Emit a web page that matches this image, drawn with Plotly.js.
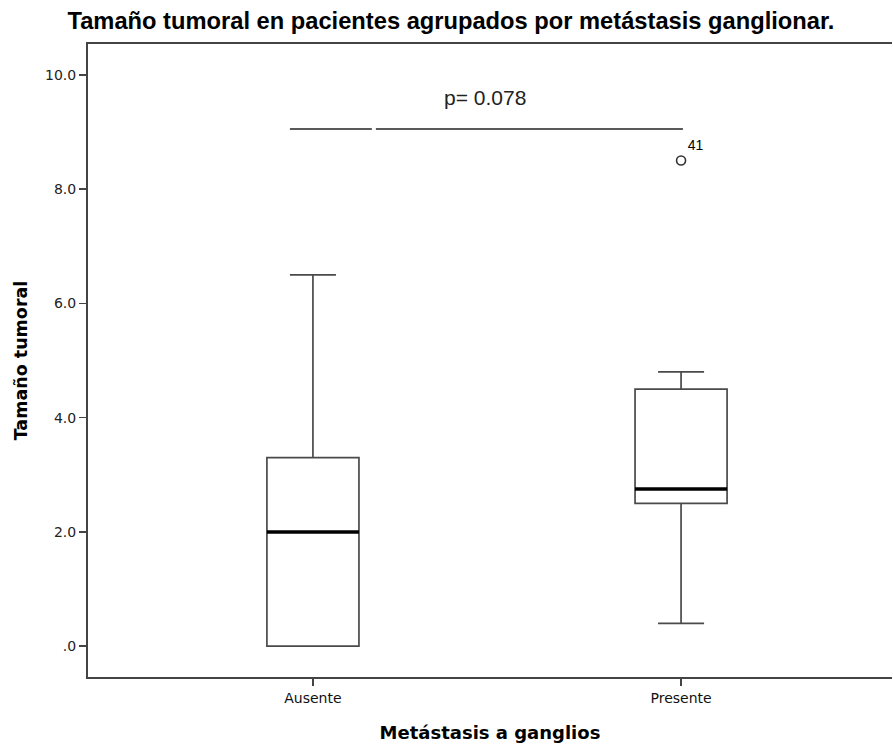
<!DOCTYPE html>
<html>
<head>
<meta charset="utf-8">
<script src="https://cdn.plot.ly/plotly-3.0.1.min.js"></script>
<style>html,body{margin:0;padding:0;background:#fff;}#chart{width:893px;height:747px;}</style>
</head>
<body>
<div id="chart"></div>
<script>
// ---- Data ----
const categories = ["Ausente", "Presente"];
const lowerWhisker = [0.0, 0.4];
const q1Values = [0.0, 2.5];
const medianValues = [2.0, 2.75];
const q3Values = [3.3, 4.5];
const upperWhisker = [6.5, 4.8];
const outlierGroup = ["Presente"];
const outlierValues = [8.5];
const outlierCase = ["41"];
const yTickVals = [0, 2, 4, 6, 8, 10];
const yTickText = [".0", "2.0", "4.0", "6.0", "8.0", "10.0"];
const pValueText = "p= 0.078";
const pLineY = 9.05;

// ---- Build ----
const xIdx = categories.map((c, i) => i);
const boxW = 0.25;

const boxTrace = {
  type: "box",
  x: xIdx,
  q1: q1Values,
  median: medianValues,
  q3: q3Values,
  lowerfence: lowerWhisker,
  upperfence: upperWhisker,
  boxpoints: false,
  width: boxW,
  whiskerwidth: 0.5,
  fillcolor: "rgba(255,255,255,0)",
  line: { color: "#4a4a4a", width: 1.7 },
  hoverinfo: "skip",
  showlegend: false
};

const outlierTrace = {
  type: "scatter",
  mode: "markers+text",
  x: outlierGroup.map(g => categories.indexOf(g)),
  y: outlierValues,
  text: outlierCase,
  textposition: "top right",
  textfont: { family: "Liberation Sans, Arial, sans-serif", size: 14, color: "#000" },
  marker: { symbol: "circle-open", size: 9, color: "#333", line: { width: 1.6, color: "#333" } },
  showlegend: false,
  hoverinfo: "skip"
};

const shapes = [];
// thick medians
medianValues.forEach((m, i) => {
  shapes.push({
    type: "line", xref: "x", yref: "y",
    x0: i - boxW / 2, x1: i + boxW / 2, y0: m, y1: m,
    line: { color: "#000", width: 3.5 }
  });
});
// p-value bracket line (two segments, as in the original annotation)
shapes.push({ type: "line", xref: "x", yref: "y", x0: -0.0625, x1: 0.160, y0: pLineY, y1: pLineY, line: { color: "#222", width: 1.5 } });
shapes.push({ type: "line", xref: "x", yref: "y", x0: 0.171, x1: 1.005, y0: pLineY, y1: pLineY, line: { color: "#222", width: 1.5 } });

const layout = {
  width: 893, height: 747,
  paper_bgcolor: "#fff", plot_bgcolor: "#fff",
  margin: { l: 88, r: 1, t: 44, b: 70 },
  font: { family: "Liberation Sans, Arial, sans-serif", color: "#000" },
  title: {
    text: "<b>Tamaño tumoral en pacientes agrupados por metástasis ganglionar.</b>",
    font: { family: "Liberation Sans, Arial, sans-serif", size: 23.7, color: "#000" },
    x: 0.505, xref: "container", xanchor: "center",
    y: 0.972, yref: "container", yanchor: "middle"
  },
  xaxis: {
    range: [-0.611, 1.573],
    tickvals: xIdx, ticktext: categories,
    ticks: "outside", ticklen: 7, tickwidth: 2, tickcolor: "#444",
    showline: true, linecolor: "#444", linewidth: 2, mirror: true,
    showgrid: false, zeroline: false,
    tickfont: { family: "DejaVu Sans, sans-serif", size: 14, color: "#111" },
    title: {
      text: "<b>Metástasis a ganglios</b>",
      font: { family: "DejaVu Sans, sans-serif", size: 18, color: "#000" },
      standoff: 22
    }
  },
  yaxis: {
    range: [-0.54, 10.54],
    tickvals: yTickVals, ticktext: yTickText,
    ticks: "outside", ticklen: 7, tickwidth: 1.5, tickcolor: "#444",
    showline: true, linecolor: "#444", linewidth: 2,
    showgrid: false, zeroline: false,
    tickfont: { family: "DejaVu Sans, sans-serif", size: 14, color: "#222" },
    title: {
      text: "<b>Tamaño tumoral</b>",
      font: { family: "DejaVu Sans, sans-serif", size: 17.5, color: "#000" },
      standoff: 13
    }
  },
  shapes: shapes,
  annotations: [{
    xref: "x", yref: "y", x: 0.467, y: 9.6,
    text: pValueText, showarrow: false,
    font: { family: "Liberation Sans, Arial, sans-serif", size: 21, color: "#222" }
  }]
};

Plotly.newPlot("chart", [boxTrace, outlierTrace], layout, { displayModeBar: false, staticPlot: true });
</script>
</body>
</html>
